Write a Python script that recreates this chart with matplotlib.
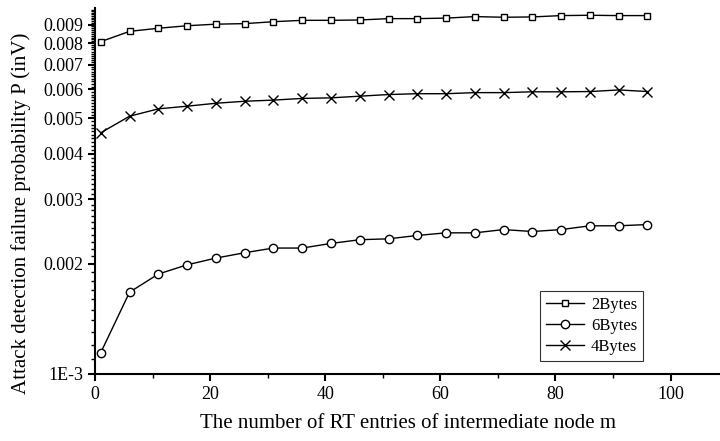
import matplotlib
matplotlib.use('Agg')
import matplotlib.pyplot as plt
from matplotlib.ticker import FixedLocator, FixedFormatter, MultipleLocator
import numpy as np

plt.rcParams['font.family'] = ['Liberation Serif', 'DejaVu Serif']

# data
m = [1, 6, 11, 16, 21, 26, 31, 36, 41, 46, 51, 56, 61, 66, 71, 76, 81, 86, 91, 96]
p_2bytes = [0.00809, 0.00863, 0.00880, 0.00894, 0.00903, 0.00906, 0.00917, 0.00925, 0.00925, 0.00927,
            0.00935, 0.00935, 0.00938, 0.00947, 0.00943, 0.00945, 0.00953, 0.00955, 0.00953, 0.00953]
p_6bytes = [0.001144, 0.001673, 0.001875, 0.001987, 0.002073, 0.002144, 0.002208, 0.002208, 0.002273, 0.002327,
            0.00234, 0.00239, 0.00243, 0.00243, 0.00248, 0.00245, 0.00248, 0.00254, 0.00254, 0.00256]
p_4bytes = [0.00456, 0.00506, 0.00530, 0.00539, 0.00549, 0.00556, 0.00560, 0.00566, 0.00568, 0.00574,
            0.00580, 0.00583, 0.00583, 0.00587, 0.00587, 0.00590, 0.00590, 0.00591, 0.00597, 0.00591]

y_major = [0.001, 0.002, 0.003, 0.004, 0.005, 0.006, 0.007, 0.008, 0.009]
y_labels = ['1E-3', '0.002', '0.003', '0.004', '0.005', '0.006', '0.007', '0.008', '0.009']

fig = plt.figure(figsize=(7.2, 4.41), dpi=100)
ax = fig.add_axes([0.132, 0.152, 0.868, 0.830])

ax.plot(m, p_2bytes, '-', color='black', lw=1, marker='s', ms=5, mfc='white', mec='black', mew=1, label='2Bytes')
ax.plot(m, p_6bytes, '-', color='black', lw=1, marker='o', ms=6, mfc='white', mec='black', mew=1, label='6Bytes')
ax.plot(m, p_4bytes, '-', color='black', lw=1, marker='x', ms=7.5, mec='black', mew=1, label='4Bytes')

ax.set_yscale('log')
ax.set_ylim(0.001, 0.01)
ax.set_xlim(0, 108.6)

ax.yaxis.set_major_locator(FixedLocator(y_major))
ax.yaxis.set_major_formatter(FixedFormatter(y_labels))
minor = [round(k * 0.0001, 5) for k in range(11, 100) if k % 10 != 0]
ax.yaxis.set_minor_locator(FixedLocator(minor))
ax.yaxis.set_minor_formatter(FixedFormatter([''] * len(minor)))

ax.xaxis.set_major_locator(MultipleLocator(20))
ax.xaxis.set_minor_locator(MultipleLocator(10))

for s in ['top', 'right']:
    ax.spines[s].set_visible(False)
for s in ['left', 'bottom']:
    ax.spines[s].set_linewidth(1.5)

ax.tick_params(which='major', direction='out', length=5, width=1.5, labelsize=13)
ax.tick_params(which='minor', direction='out', length=3, width=1)

ax.set_xlabel('The number of RT entries of intermediate node m', fontsize=15, labelpad=8)
ax.set_ylabel('Attack detection failure probability P (inV)', fontsize=15)
ax.yaxis.set_label_coords(-0.103, 0.44)

leg = ax.legend(loc='lower right', bbox_to_anchor=(0.877, 0.036), borderaxespad=0, fontsize=12,
                frameon=True, fancybox=False, edgecolor='black', handlelength=2.3, borderpad=0.35,
                labelspacing=0.3, handletextpad=0.4)
leg.get_frame().set_linewidth(0.8)

fig.savefig('out.png', dpi=100)
